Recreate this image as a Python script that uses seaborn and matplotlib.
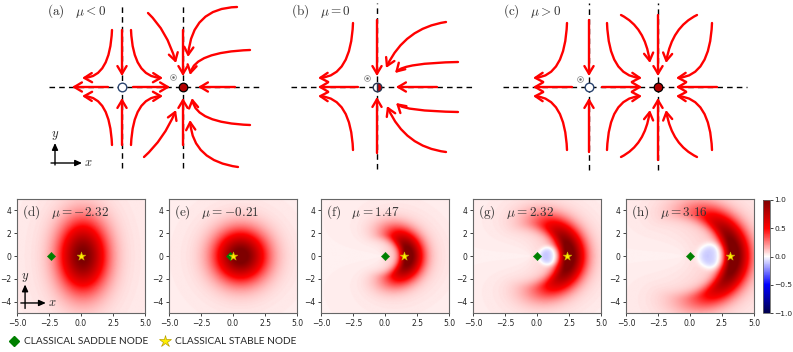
import numpy as np
import matplotlib
matplotlib.use("Agg")
import matplotlib.pyplot as plt
import seaborn as sns
from matplotlib.patches import FancyArrowPatch
from matplotlib.path import Path
from matplotlib.lines import Line2D

# ---------------- top row: schematic flows (units of 10 px, x=0 at the mu-independent fixed point)
top_labels = [r"$\mathrm{(a)}\quad\mu<0$", r"$\mathrm{(b)}\quad\mu=0$", r"$\mathrm{(c)}\quad\mu>0$"]

a_saddle, a_node = [-6.1], [0.0]
a_hline, a_vlines, a_vspan = (-13.4, 7.7), [-6.1, 0.0], (-8.1, 8.1)
a_straight = [(-6.1, 5.7, -6.1, 1.1), (-6.1, -5.8, -6.1, -1.1), (-7.5, 0, -11.1, 0),
              (-5.0, 0, -1.3, 0), (0, 5.7, 0, 1.1), (0, -5.8, 0, -1.1), (5.2, 0, 1.5, 0)]
a_curves = [(-7.1, 5.7, -7.3, 1.0, -10.1, 0.9), (-5.2, 5.7, -5.0, 1.0, -2.0, 0.9),
            (-7.1, -5.8, -7.3, -1.0, -10.1, -0.9), (-5.2, -5.8, -5.0, -1.0, -2.0, -0.9),
            (-3.5, 7.4, -1.6, 5.6, -0.7, 2.4), (-3.9, -7.0, -1.9, -5.2, -0.7, -2.3),
            (5.4, 8.0, 0.9, 7.9, 0.5, 3.0), (6.7, 3.7, 1.2, 3.5, 0.7, 1.2),
            (6.7, -3.8, 1.3, -3.6, 0.9, -1.1), (5.5, -8.0, 1.0, -7.4, 0.7, -3.3)]
a_odot = (-1.0, 1.0)

b_half = [0.0]
b_hline, b_vlines, b_vspan = (-8.6, 9.5), [0.0], (-8.2, 8.4)
b_straight = [(0, 6.7, 0, 1.1), (0, -6.6, 0, -1.0), (-1.9, 0, -5.9, 0), (6.0, 0, 1.9, 0)]
b_curves = [(-2.4, 6.4, -2.6, 1.1, -5.9, 0.9), (-2.4, -6.3, -2.6, -1.1, -5.9, -0.9),
            (6.9, 6.5, 2.8, 5.9, 0.9, 1.9), (8.1, 2.5, 2.8, 2.4, 1.8, 1.4),
            (8.1, -2.5, 2.8, -2.4, 1.9, -1.6), (6.9, -6.5, 2.8, -6.0, 1.0, -1.9)]
b_odot = (-1.0, 0.9)

c_saddle, c_node = [0.0], [6.9]
c_hline, c_vlines, c_vspan = (-8.6, 15.8), [0.0, 6.9], (-8.3, 8.4)
c_straight = [(0, 6.7, 0, 1.1), (0, -6.5, 0, -1.1), (-1.7, 0, -5.6, 0), (1.3, 0, 5.3, 0),
              (6.9, 7.2, 6.9, 1.1), (6.9, -7.3, 6.9, -1.1), (12.8, 0, 8.7, 0)]
c_curves = [(-2.2, 6.4, -2.4, 1.1, -5.6, 0.9), (-2.2, -6.3, -2.4, -1.1, -5.6, -0.9),
            (1.8, 6.4, 2.0, 1.1, 5.3, 0.9), (1.8, -6.3, 2.0, -1.1, 5.3, -0.9),
            (12.3, 6.4, 12.1, 1.1, 8.7, 0.9), (12.3, -6.3, 12.1, -1.1, 8.7, -0.9),
            (3.2, 7.2, 5.6, 6.0, 6.1, 2.4), (10.8, 7.2, 8.3, 6.0, 7.7, 2.4),
            (3.2, -7.0, 5.6, -5.8, 6.1, -2.3), (10.8, -7.0, 8.3, -5.8, 7.7, -2.3)]
c_odot = (-0.9, 0.8)

# ---------------- bottom row: normalised field maps
mus = [-2.32, -0.21, 1.47, 2.32, 3.16]
letters = ["d", "e", "f", "g", "h"]
saddle_x = [-2.32, -0.21, 0.0, 0.0, 0.0]
stable_x = [0.0, 0.0, 1.47, 2.32, 3.16]
ring_cx = [0.15, 0.6, -0.2, -0.5, -0.5]
ring_r = [0.0, 0.0, 2.0, 3.0, 3.9]
w_in = [1.25, 1.35, 0.45, 0.55, 0.55]
w_out = [1.25, 1.35, 0.8, 0.85, 0.85]
y_stretch = [1.65, 1.1, 1.0, 1.0, 1.0]
ang_pow = [0.0, 0.0, 2.4, 2.6, 2.8]
peak = [0.95, 1.0, 1.0, 1.0, 1.0]
halo_amp = [0.05, 0.05, 0.07, 0.08, 0.08]
halo_w = [3.0, 3.0, 2.0, 2.0, 2.2]
halo_pow = [0.0, 0.0, 1.0, 0.8, 0.8]
dip_x = [0.0, 0.0, 0.0, 1.0, 1.8]
dip_r = [1.0, 1.0, 1.0, 0.85, 1.15]
dip_amp = [0.0, 0.0, 0.0, -0.2, -0.19]
background = 0.03

sns.set_style("ticks")
plt.rcParams["font.family"] = ["DejaVu Sans"]
plt.rcParams["mathtext.fontset"] = "cm"

W, H = 793, 352
fig = plt.figure(figsize=(W / 100, H / 100), dpi=100)

flow_red = "#ff0000"
head = "->,head_length=0.55,head_width=0.33"


def draw_flow(ax, straight, curves):
    for x0, y0, x1, y1 in straight:
        p = Path([(x0, y0), (x1, y1)], [Path.MOVETO, Path.LINETO])
        ax.add_patch(FancyArrowPatch(path=p, arrowstyle=head, mutation_scale=10,
                                     color=flow_red, lw=1.7, zorder=2))
    for x0, y0, cx, cy, x1, y1 in curves:
        p = Path([(x0, y0), (cx, cy), (x1, y1)], [Path.MOVETO, Path.CURVE3, Path.CURVE3])
        ax.add_patch(FancyArrowPatch(path=p, arrowstyle=head, mutation_scale=10,
                                     color=flow_red, lw=1.7, zorder=2))


top_boxes = [(40, 265), (280, 480), (495, 760)]
top_origin = [183, 377, 589]
top_label_x = [0.031, 0.055, 0.03]
panels = [(a_hline, a_vlines, a_vspan, a_straight, a_curves, a_odot),
          (b_hline, b_vlines, b_vspan, b_straight, b_curves, b_odot),
          (c_hline, c_vlines, c_vspan, c_straight, c_curves, c_odot)]

top_axes = []
for i, (hl, vls, vsp, st, cv, od) in enumerate(panels):
    x0, x1 = top_boxes[i]
    ax = fig.add_axes([x0 / W, 1 - 172 / H, (x1 - x0) / W, 172 / H])
    ax.set_xlim((x0 - top_origin[i]) / 10, (x1 - top_origin[i]) / 10)
    ax.set_ylim(-8.5, 8.7)
    ax.axis("off")
    ax.plot(hl, [0, 0], color="black", lw=1.0, ls=(0, (4, 3)), zorder=1)
    for xv in vls:
        ax.plot([xv, xv], vsp, color="black", lw=1.0, ls=(0, (4, 3)), zorder=1)
    draw_flow(ax, st, cv)
    ax.plot(od[0], od[1], marker="o", ms=4.2, mfc="white", mec="#888888", mew=0.5, zorder=3)
    ax.plot(od[0], od[1], marker="o", ms=0.8, color="#666666", zorder=4)
    ax.text(top_label_x[i], 0.935, top_labels[i], transform=ax.transAxes,
            fontsize=9.5, va="center", ha="left", color="#333333")
    top_axes.append(ax)

for ax, sx, nx in [(top_axes[0], a_saddle, a_node), (top_axes[2], c_saddle, c_node)]:
    ax.plot(sx, [0], marker="o", ls="none", ms=6.2, mfc="white", mec="#2b4570", mew=1.0, zorder=5)
    ax.plot(nx, [0], marker="o", ls="none", ms=6.2, mfc="#b30000", mec="black", mew=0.9, zorder=5)
top_axes[1].plot(b_half, [0], marker="o", ls="none", ms=6.2, fillstyle="right", mfc="#d40000",
                 markerfacecoloralt="white", mec="#2b3550", mew=1.0, zorder=5)

# coordinate arrows in (a)
axa = top_axes[0]
axis_head = "-|>,head_length=0.4,head_width=0.18"
axa.annotate("", xy=(-12.8, -5.6), xytext=(-12.8, -7.8),
             arrowprops=dict(arrowstyle=axis_head, color="black", lw=1.0, shrinkA=0, shrinkB=0))
axa.annotate("", xy=(-10.1, -7.6), xytext=(-13.2, -7.6),
             arrowprops=dict(arrowstyle=axis_head, color="black", lw=1.0, shrinkA=0, shrinkB=0))
axa.text(-12.8, -4.9, r"$y$", fontsize=9, ha="center", va="center")
axa.text(-9.5, -7.55, r"$x$", fontsize=9, ha="center", va="center")

# ---------------- bottom row
grid = np.linspace(-5, 5, 241)
X, Y = np.meshgrid(grid, grid)


def field(k):
    dx = X - ring_cx[k]
    dy = Y / y_stretch[k]
    r = np.hypot(dx, dy)
    th = np.arctan2(dy, dx)
    w = np.where(r < ring_r[k], w_in[k], w_out[k])
    ang = ((1 + np.cos(th)) / 2)
    main = peak[k] * np.exp(-0.5 * ((r - ring_r[k]) / w) ** 2) * ang ** ang_pow[k]
    halo = halo_amp[k] * np.exp(-(r - ring_r[k]) ** 2 / (2 * halo_w[k] ** 2)) * ang ** halo_pow[k]
    dip = dip_amp[k] * np.exp(-(((X - dip_x[k]) ** 2 + Y ** 2) / dip_r[k] ** 2) ** 2)
    return main + halo + dip + background


lefts = [17, 169, 321, 473, 626]
im = None
for k in range(5):
    ax = fig.add_axes([lefts[k] / W, (H - 313) / H, 128 / W, 114 / H])
    im = ax.imshow(field(k), extent=[-5, 5, -5, 5], origin="lower", cmap="seismic",
                   vmin=-1, vmax=1, aspect="auto", interpolation="bilinear")
    sns.scatterplot(x=[saddle_x[k]], y=[0], marker="D", s=18, color="green", edgecolor="green",
                    linewidth=0.3, ax=ax, zorder=3, legend=False)
    sns.scatterplot(x=[stable_x[k]], y=[0], marker="*", s=42, color="#ffee00", edgecolor="#c8b000",
                    linewidth=0.4, ax=ax, zorder=4, legend=False)
    ax.set_xlim(-5, 5)
    ax.set_ylim(-5, 5)
    ax.set_xticks([-5, -2.5, 0, 2.5, 5])
    ax.set_yticks([-4, -2, 0, 2, 4])
    ax.tick_params(labelsize=5.5, length=2.5, width=0.6, pad=1.5, colors="#222222")
    for s in ax.spines.values():
        s.set_color("#666666")
        s.set_linewidth(0.8)
    ax.text(0.04, 0.885, r"$\mathrm{(%s)}\quad\mu=%s$" % (letters[k], f"{mus[k]:.2f}"),
            transform=ax.transAxes, fontsize=9.5, va="center", ha="left", color="#333333")
    if k == 0:
        ax.annotate("", xy=(-4.37, -2.5), xytext=(-4.37, -4.6),
                    arrowprops=dict(arrowstyle=axis_head, color="black", lw=1.0, shrinkA=0, shrinkB=0))
        ax.annotate("", xy=(-2.75, -4.12), xytext=(-4.7, -4.12),
                    arrowprops=dict(arrowstyle=axis_head, color="black", lw=1.0, shrinkA=0, shrinkB=0))
        ax.text(-4.37, -1.9, r"$y$", fontsize=9, ha="center", va="center")
        ax.text(-2.25, -4.1, r"$x$", fontsize=9, ha="center", va="center")

cax = fig.add_axes([763 / W, (H - 313) / H, 7 / W, 113 / H])
cb = fig.colorbar(im, cax=cax, ticks=[-1, -0.5, 0, 0.5, 1])
cb.ax.tick_params(labelsize=5.4, length=2.2, width=0.6, pad=1.0, colors="#222222")
cb.outline.set_edgecolor("#666666")
cb.outline.set_linewidth(0.6)

handles = [Line2D([], [], ls="none", marker="D", ms=5, mfc="green", mec="green"),
           Line2D([], [], ls="none", marker="*", ms=9, mfc="#ffee00", mec="#b8a000", mew=0.5)]
fig.legend(handles, ["CLASSICAL SADDLE NODE", "CLASSICAL STABLE NODE"], loc="lower left",
           bbox_to_anchor=(0.0, -0.01), ncol=2, frameon=False, handlelength=1.0,
           handletextpad=0.5, columnspacing=1.1, prop={"family": "Lato", "size": 7.3})

fig.savefig("out.png", dpi=100, facecolor="white")
